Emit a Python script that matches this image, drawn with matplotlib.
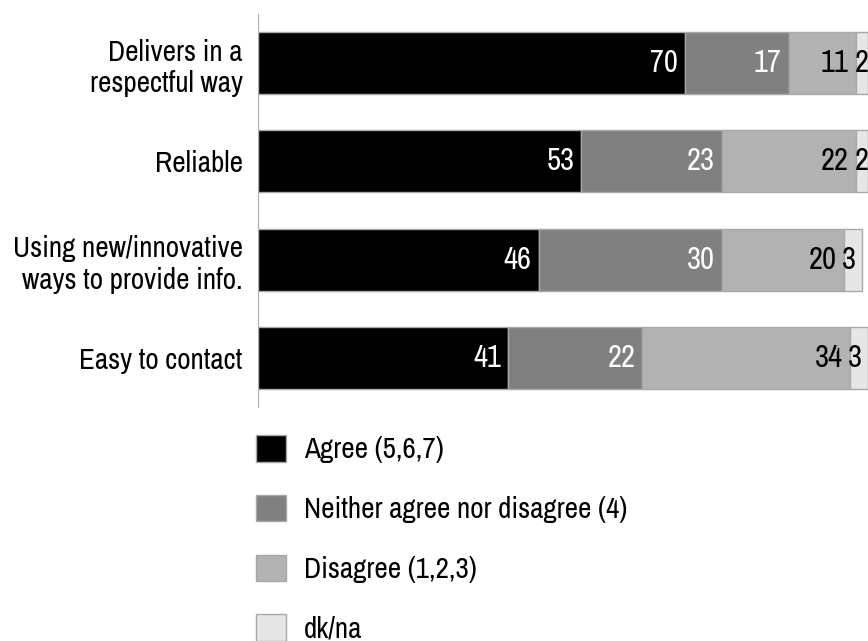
import numpy as np
import matplotlib.pyplot as plt
from matplotlib.patches import Patch

plt.rcParams['font.family'] = ['Archivo Narrow', 'Liberation Sans', 'DejaVu Sans']

categories = ['Delivers in a\nrespectful way', 'Reliable',
              'Using new/innovative\nways to provide info.', 'Easy to contact']
agree = [70, 53, 46, 41]
neither = [17, 23, 30, 22]
disagree = [11, 22, 20, 34]
dkna = [2, 2, 3, 3]

series = [agree, neither, disagree, dkna]
labels = ['Agree (5,6,7)', 'Neither agree nor disagree (4)', 'Disagree (1,2,3)', 'dk/na']
colors = ['#000000', '#808080', '#b2b2b2', '#e6e6e6']
txtcol = ['white', 'white', 'black', 'black']

fig = plt.figure(figsize=(8.68, 6.41), dpi=100)
ax = fig.add_axes([258/868, 1-407/641, 1-258/868, (407-14)/641])

y = np.arange(len(categories))
left = np.zeros(len(categories))
for k, (vals, c, tc) in enumerate(zip(series, colors, txtcol)):
    vals = np.array(vals)
    ax.barh(y, vals, left=left, height=0.63, color=c, edgecolor='#a8a8a8', linewidth=1)
    for yi, l, v in zip(y, left, vals):
        if k == len(series) - 1:
            # tiny dk/na segment: label starts at the segment's left edge
            ax.annotate(str(v), (l, yi), xytext=(-1, 0), textcoords='offset points',
                        ha='left', va='center', color=tc, fontsize=22)
        else:
            ax.annotate(str(v), (l + v, yi), xytext=(-5, 0), textcoords='offset points',
                        ha='right', va='center', color=tc, fontsize=22)
    left += vals

ax.set_xlim(0, 100)
ax.set_ylim(3.5, -0.5)
ax.set_yticks(y)
ax.set_yticklabels(categories, fontsize=21, linespacing=1.22)
ax.tick_params(axis='y', length=0, pad=11)
ax.set_xticks([])
for s in ['top', 'right', 'bottom']:
    ax.spines[s].set_visible(False)
ax.spines['left'].set_color('#b0b0b0')

handles = [Patch(facecolor=c, edgecolor='#a8a8a8', linewidth=1) for c in colors]
fig.legend(handles, labels, loc='upper left', bbox_to_anchor=(256/868, 1-435/641),
           frameon=False, fontsize=21, handlelength=1.03, handleheight=1.03,
           labelspacing=1.08, handletextpad=0.62, borderaxespad=0, borderpad=0)

fig.savefig('out.png', dpi=100)
